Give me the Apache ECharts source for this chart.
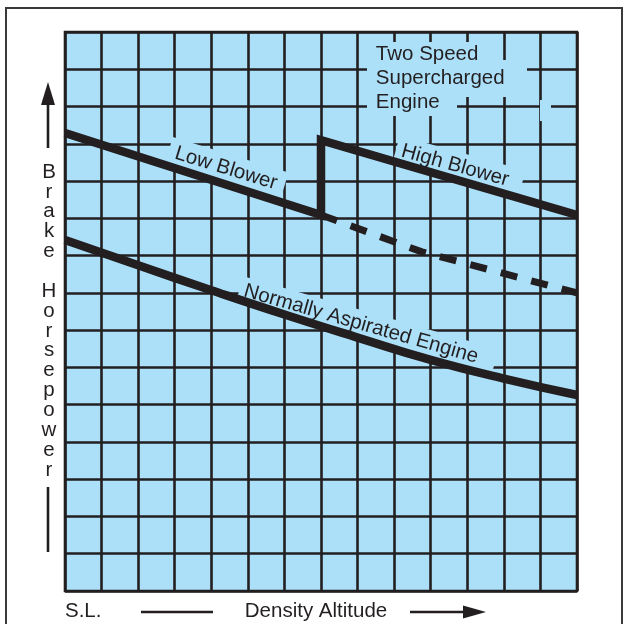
<!DOCTYPE html>
<html><head><meta charset="utf-8">
<script src="https://cdn.jsdelivr.net/npm/echarts@6/dist/echarts.min.js"></script>
<style>html,body{margin:0;padding:0;background:#fff}#c{width:623px;height:624px}</style>
</head><body><div id="c"></div>
<script>
// ---- data (grid units: x = density altitude divisions, y = brake horsepower divisions)
const xRange = [0, 14];
const yRange = [0, 15];
const superchargedCurve = [[0, 12.29], [7, 10.09], [7, 12.1], [14, 10.09]]; // low blower, shift, high blower
const lowBlowerExtension = [[7, 10.09], [9.76, 9.1], [14, 8.0]];
const normallyAspirated = [[0, 9.42], [2, 8.74], [4, 8.07], [6, 7.42], [8, 6.80], [10, 6.20], [12, 5.70], [14, 5.26]];
const yTitle = 'Brake  Horsepower';
const xStart = 'S.L.';
const xTitle = 'Density Altitude';
const boxTitle = ['Two Speed', 'Supercharged', 'Engine'];

const BLUE = '#ace0f9', INK = '#231f20';
const FONT = '"Liberation Sans", Arial, Helvetica, sans-serif';
const FS = 20.5;
const chart = echarts.init(document.getElementById('c'), null, {renderer: 'canvas'});

const axisCommon = {
  type: 'value', interval: 1,
  axisLine: {show: false}, axisTick: {show: false}, axisLabel: {show: false},
  splitLine: {show: true, lineStyle: {color: INK, width: 2.6}}
};
chart.setOption({
  animation: false,
  grid: {left: 65, top: 32, width: 512, height: 559, show: true,
         backgroundColor: BLUE, borderColor: INK, borderWidth: 2.6},
  xAxis: Object.assign({min: xRange[0], max: xRange[1]}, axisCommon),
  yAxis: Object.assign({min: yRange[0], max: yRange[1]}, axisCommon),
  series: [
    {type: 'line', z: 5, data: lowBlowerExtension, symbol: 'none',
     lineStyle: {color: INK, width: 7, type: [17, 14.5], cap: 'butt'}},
    {type: 'line', z: 6, data: superchargedCurve, symbol: 'none',
     lineStyle: {color: INK, width: 8.5, cap: 'butt', join: 'miter', miterLimit: 4}},
    {type: 'line', z: 6, data: normallyAspirated, symbol: 'none', smooth: 0.5,
     lineStyle: {color: INK, width: 8.5, cap: 'butt'}}
  ]
});

const px = p => chart.convertToPixel({gridIndex: 0}, p);
const deg = d => d * Math.PI / 180;
const font = FS + 'px ' + FONT;
// rotated label with knock-out background, centred on the text itself
function label(text, at, rotDeg, pad) {
  const p = px(at), r = deg(rotDeg);
  const dx = (pad[1] - pad[3]) / 2, dy = (pad[2] - pad[0]) / 2;
  const sx = dx * Math.cos(r) + dy * Math.sin(r), sy = -dx * Math.sin(r) + dy * Math.cos(r);
  return {type: 'text', x: p[0] + sx, y: p[1] + sy, rotation: r, z: 1,
    style: {text: text, font: font, fill: INK, align: 'center', verticalAlign: 'middle',
            lineHeight: 20, backgroundColor: BLUE, padding: pad}};
}
const knock = (x, y, w, h) => ({type: 'rect', z: 1, shape: {x: x, y: y, width: w, height: h}, style: {fill: BLUE}});
const rowAt = [[8.5, 14.395], [8.5, 13.76], [8.5, 13.115]];
const p0 = px([0, 0]);
const elements = [
  label('Low Blower', [4.39, 11.30], -17, [6, 8, 3, 7]),
  label('High Blower', [10.66, 11.39], -15.5, [5, 14, 3, 6]),
  label('Normally Aspirated Engine', [8.09, 7.15], -16, [4, 18, 3, 5]),
  knock(367, 42, 123, 21), knock(367, 60, 160, 37), knock(367, 95, 90, 21), knock(540, 100, 11, 21)
].concat(boxTitle.map((t, i) => {
  const p = px(rowAt[i]);
  return {type: 'text', x: p[0], y: p[1], z: 2,
    style: {text: t, font: font, fill: INK, align: 'left', verticalAlign: 'middle'}};
})).concat([
  // outer frame
  {type: 'rect', shape: {x: 6, y: 8, width: 616, height: 640}, style: {fill: null, stroke: '#3a3a3a', lineWidth: 2}, z: 10},
  // y title
  {type: 'text', x: 49, y: 321, style: {text: yTitle.split('').join('\n').replace(/\n \n \n/, '\n\n'),
    font: font, fill: INK, align: 'center', verticalAlign: 'middle', lineHeight: 19.85}},
  {type: 'line', shape: {x1: 48, y1: 148, x2: 48, y2: 100}, style: {stroke: INK, lineWidth: 2.6}},
  {type: 'polygon', shape: {points: [[48, 82], [41, 105], [55, 105]]}, style: {fill: INK}},
  {type: 'line', shape: {x1: 48, y1: 487, x2: 48, y2: 552}, style: {stroke: INK, lineWidth: 2.6}},
  // x title
  {type: 'text', x: p0[0], y: 611, style: {text: xStart, font: font, fill: INK, align: 'left', verticalAlign: 'middle'}},
  {type: 'line', shape: {x1: 141, y1: 612, x2: 213, y2: 612}, style: {stroke: INK, lineWidth: 2.6}},
  {type: 'text', x: 316, y: 611, style: {text: xTitle, font: font, fill: INK, align: 'center', verticalAlign: 'middle'}},
  {type: 'line', shape: {x1: 410, y1: 612, x2: 468, y2: 612}, style: {stroke: INK, lineWidth: 2.6}},
  {type: 'polygon', shape: {points: [[486, 612], [463, 605.5], [463, 618.5]]}, style: {fill: INK}}
]);
chart.setOption({graphic: {elements: elements}});
</script></body></html>
